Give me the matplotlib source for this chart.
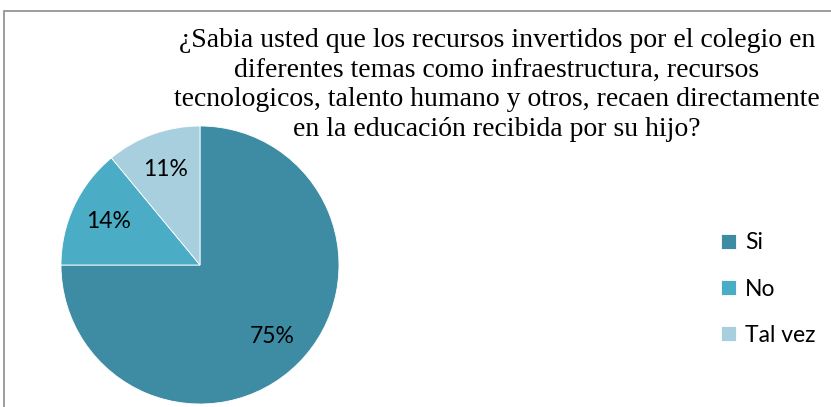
import numpy as np
import matplotlib.pyplot as plt
from matplotlib.patches import Rectangle

# datos del grafico
categorias = ['Si', 'No', 'Tal vez']
porcentajes = [75, 14, 11]
colores = ['#3D8CA4', '#4BACC6', '#A8CFDD']
titulo = ('¿Sabia usted que los recursos invertidos por el colegio en\n'
          'diferentes temas como infraestructura, recursos\n'
          'tecnologicos, talento humano y otros, recaen directamente\n'
          'en la educación recibida por su hijo?')

W, H = 831, 407
fig = plt.figure(figsize=(W / 100, H / 100), dpi=100)

# borde del grafico
fig.patches.append(Rectangle((4 / W, -0.1), 1.2, 1 - 11 / H + 0.1,
                             transform=fig.transFigure, fill=False,
                             edgecolor='#8c8c8c', linewidth=1.2))

# pastel
cx, cy, r = 200, 265, 139
ax = fig.add_axes([(cx - r) / W, (H - cy - r) / H, 2 * r / W, 2 * r / H])
cunas, textos = ax.pie(porcentajes, colors=colores, startangle=90,
                       counterclock=False, labels=[f'{p}%' for p in porcentajes],
                       labeldistance=0.73,
                       wedgeprops=dict(edgecolor='white', linewidth=0.6),
                       textprops=dict(fontsize=16.5, family='Lato', color='black'))
for t in textos:
    t.set_horizontalalignment('center')
    t.set_verticalalignment('center')
ax.set_xlim(-1, 1)
ax.set_ylim(-1, 1)
ax.set_aspect('equal')

# titulo
fig.text(497 / W, 1 - 85 / H, titulo, ha='center', va='center',
         multialignment='center', fontsize=20, family='Liberation Serif',
         linespacing=1.24)

# leyenda
fig.legend(cunas, categorias, loc='center left',
           bbox_to_anchor=(721 / W, 1 - 289 / H), frameon=False,
           prop=dict(family='Lato', size=16.5), handlelength=0.65,
           handleheight=0.65, handletextpad=0.4, labelspacing=1.1,
           borderpad=0, borderaxespad=0)

fig.savefig('out.png', dpi=100)
